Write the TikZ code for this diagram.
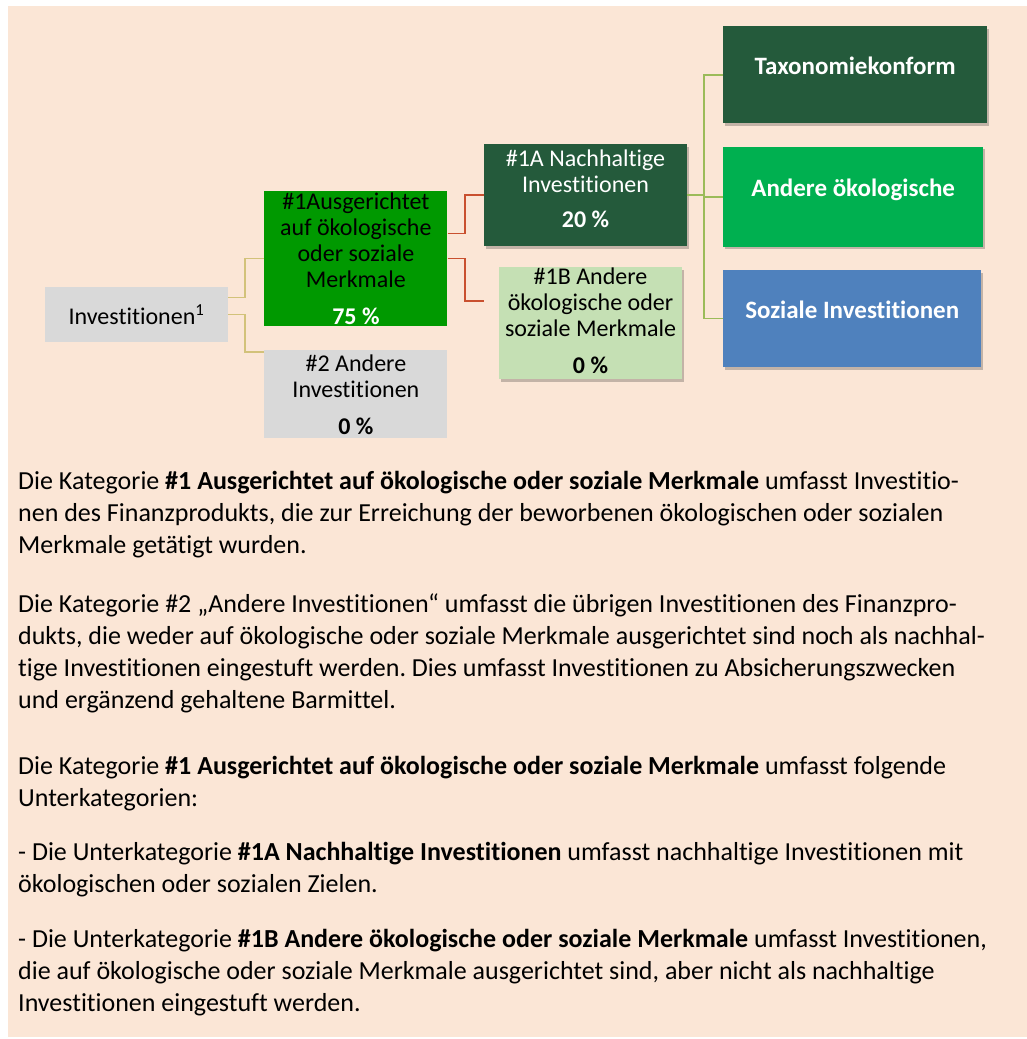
\documentclass[tikz,border=0pt]{standalone}
\usepackage{fontspec}
\setmainfont{Carlito}[Ligatures=NoCommon]
\frenchspacing
\usetikzlibrary{positioning, calc, shadows}
\definecolor{peachA}{HTML}{FBE6D6}
\definecolor{grayB}{HTML}{D9D9D9}
\definecolor{greenA}{HTML}{009900}
\definecolor{greenB}{HTML}{245A3B}
\definecolor{greenC}{HTML}{00B050}
\definecolor{greenD}{HTML}{C5E0B4}
\definecolor{blueA}{HTML}{4F81BD}
\definecolor{khakiA}{HTML}{D2C27A}
\definecolor{redA}{HTML}{C9502F}
\definecolor{oliveA}{HTML}{9BBB59}
\tikzset{
  box/.style={
    fill=#1, align=center, inner sep=0pt,
    font=\fontsize{24}{26}\selectfont
  },
  leaf/.style={
    fill=#1, align=center, inner sep=0pt, text=white,
    text height=17pt, text depth=17pt,
    font=\fontsize{25}{28}\selectfont\bfseries, shade
  },
  shade/.style={drop shadow={shadow xshift=1.5pt, shadow yshift=-2.5pt, opacity=0.22, fill=black}},
  conn/.style={draw=#1, line width=1.8pt},
  para/.style={anchor=base west, inner sep=0pt, align=left,
    font=\fontsize{26}{31.7}\selectfont}
}

\begin{document}
\begin{tikzpicture}[x=1pt, y=-1pt]
  \useasboundingbox (0,0) rectangle (1027,1039);
  \fill[peachA] (8,6) rectangle (1027,1037);

  % tree
  \node[box=grayB, minimum width=183pt, minimum height=55pt] (inv) at (136.5,314.5)
    {Investitionen\textsuperscript{1}};
  \node[box=greenA, minimum width=183pt, minimum height=135pt, right=36pt of inv.east, anchor=west, yshift=56pt] (n1)
    {\#1Ausgerichtet\\auf ökologische\\oder soziale\\Merkmale\\[11pt]\textcolor{white}{\textbf{75 \%}}};
  \node[box=grayB, minimum width=183pt, minimum height=88pt, below=24pt of n1] (n2)
    {\#2 Andere\\Investitionen\\[11pt]\textbf{0 \%}};
  \node[box=greenB, text=white, text depth=12pt, minimum width=203pt, minimum height=102pt, shade] (n1a) at (585.5,195)
    {\#1A Nachhaltige\\Investitionen\\[9pt]\textbf{20 \%}};
  \node[box=greenD, text depth=6pt, minimum width=183pt, minimum height=103pt, below=21pt of n1a, xshift=5pt, shade] (n1b)
    {\#1B Andere\\ökologische oder\\soziale Merkmale\\[11pt]\textbf{0 \%}};

  \node[leaf=greenB, minimum width=264pt, minimum height=97pt, anchor=north west] (tax) at (723,26)
    {Taxonomiekonform};
  \node[leaf=greenC, minimum width=260pt, minimum height=100pt, below=23pt of tax.south west, anchor=north west] (oeko)
    {Andere ökologische};
  \node[leaf=blueA, minimum width=258pt, minimum height=97pt, below=23pt of oeko.south west, anchor=north west] (soz)
    {Soziale Investitionen};

  \draw[conn=khakiA] ($(inv.east)+(0,-17)$) -- ++(17,0) |- (n1.west);
  \draw[conn=khakiA] (inv.east) -- ++(17,0) |- ($(n2.north west)+(0,2)$);
  \draw[conn=redA] ($(n1.east)+(0,-25)$) -- ++(17,0) |- (n1a.west);
  \draw[conn=redA] (n1.east) -- ++(17,0) |- ($(n1b.west)+(-15,-22)$);
  \draw[conn=oliveA] (n1a.east) -- ++(17,0) |- (tax.west);
  \draw[conn=oliveA] (n1a.east) -- ++(17,0) |- (oeko.west);
  \draw[conn=oliveA] (n1a.east) -- ++(17,0) |- (soz.west);

  % explanation (anchored at the last line)
  \node[para] (p1) at (18,553)
    {Die Kategorie \textbf{\#1 Ausgerichtet auf ökologische oder soziale Merkmale} umfasst Investitio-\\
     nen des Finanzprodukts, die zur Erreichung der beworbenen ökologischen oder sozialen\\
     Merkmale getätigt wurden.};
  \node[para] (p2) at (18,708)
    {Die Kategorie \#2 „Andere Investitionen“ umfasst die übrigen Investitionen des Finanzpro-\\
     dukts, die weder auf ökologische oder soziale Merkmale ausgerichtet sind noch als nachhal-\\
     tige Investitionen eingestuft werden. Dies umfasst Investitionen zu Absicherungszwecken\\
     und ergänzend gehaltene Barmittel.};
  \node[para] (p3) at (18,806)
    {Die Kategorie \textbf{\#1 Ausgerichtet auf ökologische oder soziale Merkmale} umfasst folgende\\
     Unterkategorien:};
  \node[para] (p4) at (18,892)
    {- Die Unterkategorie \textbf{\#1A Nachhaltige Investitionen} umfasst nachhaltige Investitionen mit\\
     ökologischen oder sozialen Zielen.};
  \node[para] (p5) at (18,1011)
    {- Die Unterkategorie \textbf{\#1B Andere ökologische oder soziale Merkmale} umfasst Investitionen,\\
     die auf ökologische oder soziale Merkmale ausgerichtet sind, aber nicht als nachhaltige\\
     Investitionen eingestuft werden.};
\end{tikzpicture}
\end{document}
